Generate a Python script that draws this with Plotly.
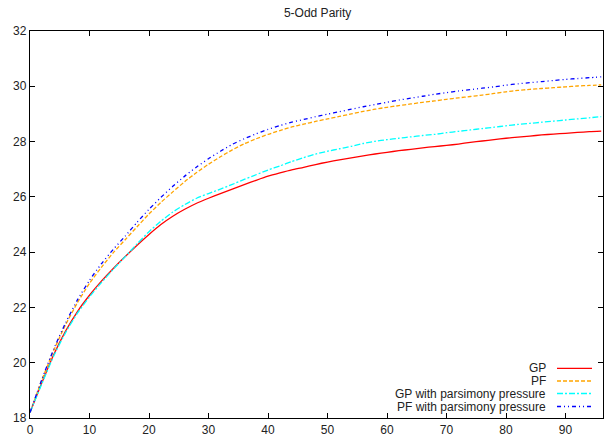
import plotly.graph_objects as go

x_vals = list(range(0, 97, 2))

gp = [18.2, 19.28, 20.3, 21.15, 21.86, 22.44, 22.95, 23.41, 23.84, 24.25,
      24.64, 25.0, 25.3, 25.55, 25.77, 25.95, 26.12, 26.28, 26.44, 26.6,
      26.75, 26.87, 26.98, 27.07, 27.17, 27.26, 27.34, 27.41, 27.48, 27.55,
      27.61, 27.67, 27.72, 27.77, 27.82, 27.86, 27.91, 27.97, 28.02, 28.07,
      28.12, 28.16, 28.2, 28.24, 28.27, 28.3, 28.33, 28.36, 28.38]

pf = [18.2, 19.38, 20.45, 21.38, 22.18, 22.87, 23.45, 23.98, 24.45, 24.92,
      25.38, 25.8, 26.18, 26.55, 26.88, 27.18, 27.45, 27.7, 27.92, 28.1,
      28.26, 28.4, 28.53, 28.63, 28.73, 28.82, 28.91, 29.0, 29.09, 29.17,
      29.24, 29.3, 29.36, 29.42, 29.47, 29.53, 29.58, 29.63, 29.68, 29.74,
      29.8, 29.85, 29.89, 29.92, 29.95, 29.98, 30.01, 30.03, 30.05]

gp_pp = [18.2, 19.24, 20.25, 21.1, 21.8, 22.38, 22.9, 23.38, 23.84, 24.3,
         24.74, 25.12, 25.45, 25.72, 25.95, 26.12, 26.28, 26.45, 26.63, 26.8,
         26.97, 27.12, 27.28, 27.42, 27.55, 27.65, 27.74, 27.83, 27.93, 28.01,
         28.07, 28.12, 28.17, 28.22, 28.26, 28.32, 28.37, 28.42, 28.47, 28.52,
         28.57, 28.62, 28.66, 28.7, 28.74, 28.78, 28.82, 28.86, 28.9]

pf_pp = [18.2, 19.4, 20.5, 21.45, 22.28, 22.98, 23.58, 24.1, 24.58, 25.08,
         25.55, 25.98, 26.38, 26.75, 27.08, 27.38, 27.65, 27.9, 28.1, 28.28,
         28.44, 28.58, 28.7, 28.8, 28.9, 28.99, 29.08, 29.17, 29.26, 29.34,
         29.42, 29.5, 29.57, 29.64, 29.71, 29.77, 29.83, 29.88, 29.93, 29.98,
         30.04, 30.09, 30.13, 30.17, 30.21, 30.25, 30.28, 30.31, 30.34]

series_names = ["GP", "PF", "GP with parsimony pressure", "PF with parsimony pressure"]
series_values = [gp, pf, gp_pp, pf_pp]
colors = ["#ff0000", "#ffa500", "#00ffff", "#0000ff"]
dashes = ["solid", "4px,2px", "6px,2px,2px,2px", "4px,3px,1px,3px,1px,3px"]

x_ticks = [0, 10, 20, 30, 40, 50, 60, 70, 80, 90]
y_ticks = [18, 20, 22, 24, 26, 28, 30, 32]

fig = go.Figure()
for name, vals, c, d in zip(series_names, series_values, colors, dashes):
    fig.add_trace(go.Scatter(x=x_vals, y=vals, mode="lines", name=name,
                             line=dict(color=c, width=1.3, dash=d, shape="spline", smoothing=0.6),
                             showlegend=False))

# gnuplot-style legend: right-aligned text with line sample on the right
W, H = 605, 444
ml, mr, mt, mb = 30, 2, 31, 26
pw, ph = W - ml - mr, H - mt - mb
row_y = [368.3, 381, 393.5, 406.5]
for name, c, d, yy in zip(series_names, colors, dashes, row_y):
    yp = 1 - (yy - mt) / ph
    fig.add_annotation(x=(548 - ml) / pw, y=yp, xref="paper", yref="paper",
                       text=name, showarrow=False, xanchor="right", yanchor="middle",
                       font=dict(size=12, color="#222"))
    fig.add_shape(type="line", xref="paper", yref="paper",
                  x0=(557 - ml) / pw, x1=(592 - ml) / pw, y0=yp, y1=yp,
                  line=dict(color=c, width=1.3, dash=d))

axis_common = dict(showgrid=False, zeroline=False, showline=True, linecolor="black",
                   linewidth=1.3, ticks="inside", ticklen=5, tickcolor="black",
                   mirror="allticks", tickfont=dict(size=12, color="#222"))

fig.update_xaxes(range=[0, 96.3], tickvals=x_ticks, **axis_common)
fig.update_yaxes(range=[18, 32], tickvals=y_ticks, **axis_common)

fig.update_layout(
    width=W, height=H,
    margin=dict(l=ml, r=mr, t=mt, b=mb),
    paper_bgcolor="white", plot_bgcolor="white",
    font=dict(family="Liberation Sans, Arial, sans-serif", size=12, color="#222"),
    title=dict(text="5-Odd Parity", x=0.525, xanchor="center", y=1 - 13 / H,
               yanchor="middle", font=dict(size=12, color="#222")),
)

fig.write_html("out.html")
